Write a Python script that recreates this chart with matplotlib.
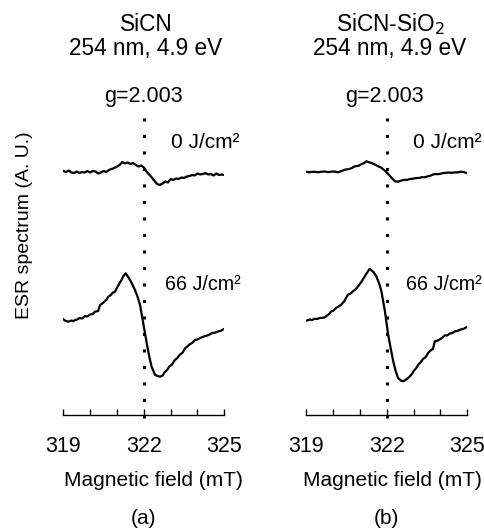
import numpy as np
import matplotlib
matplotlib.use("Agg")
import matplotlib.pyplot as plt

plt.rcParams['font.family'] = ['Liberation Sans', 'DejaVu Sans']

# ---------------- data ----------------
panel_titles = ["SiCN\n254 nm, 4.9 eV", "SiCN-SiO$_2$\n254 nm, 4.9 eV"]
panel_tags = ["(a)", "(b)"]
dose_labels = ["0 J/cm²", "66 J/cm²"]
g_label = "g=2.003"
g_field = 322.0
tick_fields = [319, 320, 321, 322, 323, 324, 325]
tick_labels = ["319", "", "", "322", "", "", "325"]

# (a) SiCN, 0 J/cm2
a0_field = [319.0, 319.1, 319.2, 319.3, 319.4, 319.5, 319.6, 319.7, 319.8, 319.9,
            320.0, 320.1, 320.2, 320.3, 320.4, 320.5, 320.6, 320.7, 320.8, 320.9,
            321.0, 321.1, 321.2, 321.3, 321.4, 321.5, 321.6, 321.7, 321.8, 321.9,
            322.0, 322.1, 322.2, 322.3, 322.4, 322.5, 322.6, 322.7, 322.8, 322.9,
            323.0, 323.1, 323.2, 323.3, 323.4, 323.5, 323.6, 323.7, 323.8, 323.9,
            324.0, 324.1, 324.2, 324.3, 324.4, 324.5, 324.6, 324.7, 324.8, 324.9, 325.0]
a0_signal = [0.10, 0.00, 0.15, -0.05, -0.10, 0.05, -0.10, 0.00, -0.05, 0.10,
             -0.05, 0.10, 0.05, -0.15, -0.05, 0.10, 0.00, 0.20, 0.30, 0.40,
             0.55, 0.70, 1.00, 0.85, 0.95, 0.80, 0.90, 0.70, 0.55, 0.65,
             0.45, 0.05, -0.25, -0.55, -0.90, -1.20, -1.30, -1.15, -0.95, -1.05,
             -0.70, -0.80, -0.65, -0.70, -0.55, -0.60, -0.45, -0.40, -0.30, -0.35,
             -0.15, -0.25, -0.20, -0.10, -0.25, -0.20, -0.35, -0.15, -0.30, -0.25, -0.30]

# (a) SiCN, 66 J/cm2
a66_field = [319.0, 319.08, 319.19, 319.3, 319.38, 319.44, 319.52, 319.6, 319.7, 319.81,
             319.9, 320.0, 320.1, 320.18, 320.3, 320.37, 320.45, 320.5, 320.6, 320.68,
             320.77, 320.85, 320.92, 320.99, 321.1, 321.17, 321.24, 321.32, 321.42, 321.55,
             321.67, 321.77, 321.86, 321.98, 322.11, 322.2, 322.29, 322.42, 322.52, 322.60,
             322.7, 322.79, 322.87, 322.95, 323.05, 323.16, 323.25, 323.35, 323.45, 323.54,
             323.62, 323.7, 323.8, 323.91, 324.0, 324.1, 324.2, 324.28, 324.37, 324.45,
             324.55, 324.65, 324.72, 324.8, 324.88, 324.96]
a66_signal = [0.57, 0.42, 0.33, 0.45, 0.38, 0.50, 0.55, 0.70, 0.65, 0.90,
              0.85, 1.05, 1.10, 1.33, 1.40, 2.00, 2.15, 2.25, 2.50, 2.83,
              3.00, 3.25, 3.30, 3.67, 4.20, 4.50, 4.90, 5.17, 4.80, 4.20,
              3.50, 2.80, 2.00, 0.17, -1.83, -3.10, -4.17, -5.00, -5.10, -5.17,
              -5.05, -4.67, -4.50, -4.15, -3.95, -3.50, -3.30, -2.95, -2.75, -2.33,
              -2.15, -1.95, -1.80, -1.50, -1.45, -1.30, -1.20, -1.10, -1.05, -0.95,
              -0.80, -0.77, -0.70, -0.62, -0.58, -0.43]

# (b) SiCN-SiO2, 0 J/cm2
b0_field = [319.0, 319.1, 319.2, 319.3, 319.44, 319.55, 319.7, 319.8, 319.93, 320.05,
            320.18, 320.3, 320.44, 320.6, 320.7, 320.81, 320.95, 321.06, 321.15, 321.24,
            321.33, 321.43, 321.55, 321.68, 321.8, 321.93, 322.02, 322.11, 322.2, 322.30,
            322.42, 322.55, 322.67, 322.76, 322.85, 322.95, 323.04, 323.12, 323.2, 323.3,
            323.41, 323.5, 323.6, 323.7, 323.79, 323.9, 324.0, 324.1, 324.16, 324.3,
            324.4, 324.5, 324.65, 324.78, 324.88, 325.0]
b0_signal = [0.03, -0.03, 0.00, 0.03, -0.03, 0.02, 0.05, -0.02, 0.03, 0.05,
             -0.03, 0.08, 0.23, 0.30, 0.40, 0.57, 0.62, 0.80, 0.88, 1.07,
             0.98, 0.90, 0.75, 0.57, 0.42, 0.13, -0.10, -0.37, -0.65, -0.93,
             -0.97, -0.85, -0.77, -0.80, -0.70, -0.68, -0.63, -0.60, -0.60, -0.52,
             -0.53, -0.45, -0.40, -0.28, -0.20, -0.22, -0.18, -0.10, -0.10, -0.05,
             -0.08, -0.05, -0.03, 0.03, -0.02, -0.13]

# (b) SiCN-SiO2, 66 J/cm2
b66_field = [319.0, 319.08, 319.15, 319.22, 319.31, 319.4, 319.5, 319.6, 319.69, 319.8,
             319.87, 319.93, 320.02, 320.1, 320.2, 320.30, 320.42, 320.55, 320.65, 320.75,
             320.85, 320.93, 321.05, 321.18, 321.27, 321.36, 321.5, 321.61, 321.72, 321.80,
             321.93, 322.05, 322.15, 322.24, 322.33, 322.42, 322.52, 322.61, 322.75, 322.86,
             322.95, 323.0, 323.1, 323.17, 323.27, 323.35, 323.45, 323.54, 323.65, 323.72,
             323.79, 323.9, 324.0, 324.08, 324.16, 324.25, 324.35, 324.45, 324.53, 324.63,
             324.75, 324.85, 324.96]
b66_signal = [0.43, 0.50, 0.55, 0.50, 0.63, 0.60, 0.70, 0.72, 0.77, 1.00,
              1.15, 1.37, 1.45, 1.70, 1.85, 2.03, 2.40, 3.03, 3.15, 3.40,
              3.60, 3.87, 4.30, 4.87, 5.25, 5.63, 5.30, 4.87, 4.10, 3.37,
              1.37, -0.97, -2.40, -3.63, -4.60, -5.30, -5.55, -5.63, -5.40, -5.13,
              -4.85, -4.60, -4.30, -3.97, -3.70, -3.40, -3.20, -2.80, -2.50, -2.40,
              -1.63, -1.55, -1.40, -1.25, -1.03, -1.05, -0.85, -0.80, -0.63, -0.60,
              -0.45, -0.40, -0.23]

panels = [
    [(a0_field, a0_signal), (a66_field, a66_signal)],
    [(b0_field, b0_signal), (b66_field, b66_signal)],
]
trace_offsets = [24.3, 9.0]   # vertical offsets of the 0 and 66 J/cm2 traces (A.U.)

# ---------------- layout ----------------
W, H = 484, 529
fig = plt.figure(figsize=(W / 100, H / 100), dpi=100)

def fx(px):
    return px / W

def fy(py):
    return 1 - py / H

ax_lefts = [63.3, 306.3]
ax_w = 161.0
ax_top, ax_bot = 100.0, 415.0
fs = 15

title_cx = [146, 390]
g_cx = [143, 384]
dose_x = [[171, 413], [165, 406]]
dose_y = [148, [290, 290]]
xlabel_cx = [153, 392]

for i in range(2):
    ax = fig.add_axes([fx(ax_lefts[i]), fy(ax_bot), fx(ax_w), (ax_bot - ax_top) / H])
    ax.set_xlim(319, 325)
    ax.set_ylim(0, 31.5)
    for s in ['left', 'right', 'top']:
        ax.spines[s].set_visible(False)
    ax.spines['bottom'].set_linewidth(1.0)
    ax.set_yticks([])
    ax.set_xticks(tick_fields)
    ax.set_xticklabels(tick_labels, fontsize=15.5)
    ax.tick_params(axis='x', direction='in', length=4.5, width=1.0, pad=15)
    ax.patch.set_alpha(0)

    for k, (fld, sig) in enumerate(panels[i]):
        ax.plot(fld, np.array(sig) + trace_offsets[k], color='black', lw=1.6,
                solid_joinstyle='round')

    ax.plot([g_field, g_field], [-0.3, 30.2], color='black', lw=2.2,
            linestyle=(0, (1, 4.4)), clip_on=False)

    t1, t2 = panel_titles[i].split("\n")
    fig.text(fx(title_cx[i]), fy(31), t1, ha='center', va='baseline', fontsize=16.3)
    fig.text(fx(title_cx[i]), fy(55), t2, ha='center', va='baseline', fontsize=16.3)
    fig.text(fx(g_cx[i]), fy(102), g_label, ha='center', va='baseline', fontsize=15.5)
    fig.text(fx(dose_x[0][i]), fy(dose_y[0]), dose_labels[0], ha='left', va='baseline', fontsize=fs)
    fig.text(fx(dose_x[1][i]), fy(dose_y[1][i]), dose_labels[1], ha='left', va='baseline', fontsize=14.2)
    fig.text(fx(xlabel_cx[i]), fy(486), "Magnetic field (mT)", ha='center', va='baseline', fontsize=fs)
    fig.text(fx(ax_lefts[i] + ax_w / 2), fy(524), panel_tags[i], ha='center', va='baseline', fontsize=fs)

fig.text(fx(25), fy(225), "ESR spectrum (A. U.)", rotation=90, ha='center', va='center', fontsize=14)

fig.savefig("out.png", dpi=100)
